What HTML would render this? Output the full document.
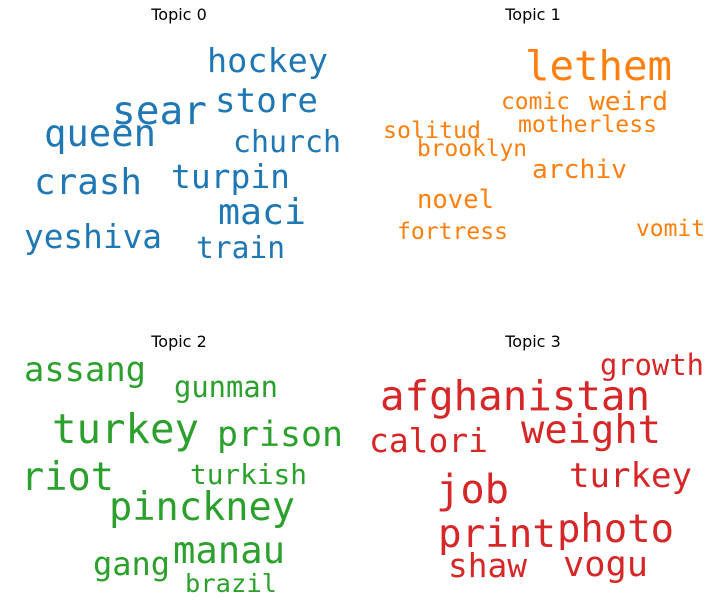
<!DOCTYPE html>
<html><head><meta charset="utf-8"><style>
html,body{margin:0;padding:0;background:#fff;}
svg text{font-family:"DejaVu Sans Mono","Liberation Mono",monospace;}
svg text.t{font-family:"DejaVu Sans","Liberation Sans",sans-serif;font-size:16px;fill:#000;}
</style></head><body>
<svg width="712" height="608" xmlns="http://www.w3.org/2000/svg">
<rect width="712" height="608" fill="#fff"/>
<g id="root"></g>
</svg>
<script>
const topicTitles = ["Topic 0","Topic 1","Topic 2","Topic 3"];
const topicColors = ["#1f77b4","#ff7f0e","#2ca02c","#d62728"];
const words0 = ["hockey","sear","store","queen","church","crash","turpin","maci","yeshiva","train"];
const words1 = ["lethem","comic","weird","solitud","motherless","brooklyn","archiv","novel","fortress","vomit"];
const words2 = ["assang","gunman","turkey","prison","riot","turkish","pinckney","manau","gang","brazil"];
const words3 = ["growth","afghanistan","calori","weight","turkey","job","print","photo","shaw","vogu"];
// layout: [x, baseline, fontSize, width]
const layout0 = [[207,72,33,121],[112,124,39,95],[215,112,34,103],[44,146,37,112],[233,152,30,108],[34,194,36,108],[171,188,33,119],[218,224,36,88],[24,248,33,138],[196,258,30,89]];
const layout1 = [[525,80,41,147],[501,109,23,69],[589,110,26,79],[383,138,23,98],[518,132,23,139],[417,156,23,110],[532,178,26,95],[417,208,26,77],[397,239,23,111],[636,236,23,69]];
const layout2 = [[24,381,34,122],[174,397,29,104],[52,443,41,147],[217,446,35,126],[21,490,39,93],[190,484,28,117],[109,520,39,186],[173,563,37,112],[93,575,32,77],[185,592,25,92]];
const layout3 = [[600,375,29,104],[380,410,41,270],[369,452,33,119],[521,443,39,140],[569,487,34,123],[436,503,40,73],[438,547,39,118],[557,542,39,117],[448,577,33,79],[563,576,35,85]];
const titlePos = [[179,20],[533,20],[179,347],[533,347]];
const NS="http://www.w3.org/2000/svg";
const root=document.getElementById('root');
const allWords=[words0,words1,words2,words3];
const allLayout=[layout0,layout1,layout2,layout3];
for(let t=0;t<4;t++){
  const g=document.createElementNS(NS,'g');
  
  
  const tt=document.createElementNS(NS,'text');
  tt.setAttribute('class','t');
  tt.setAttribute('x',titlePos[t][0]);tt.setAttribute('y',titlePos[t][1]);
  tt.setAttribute('text-anchor','middle');
  tt.textContent=topicTitles[t];
  
  
  g.appendChild(tt);
  allWords[t].forEach((w,i)=>{
    const L=allLayout[t][i];
    const e=document.createElementNS(NS,'text');
    e.setAttribute('x',L[0]);e.setAttribute('y',L[1]);
    e.setAttribute('font-size',L[2]);
    e.setAttribute('textLength',L[3]);
    e.setAttribute('lengthAdjust','spacingAndGlyphs');
    e.setAttribute('fill',topicColors[t]);
    e.textContent=w;
    
    
    g.appendChild(e);
  });
  root.appendChild(g);
}
</script>
</body></html>
